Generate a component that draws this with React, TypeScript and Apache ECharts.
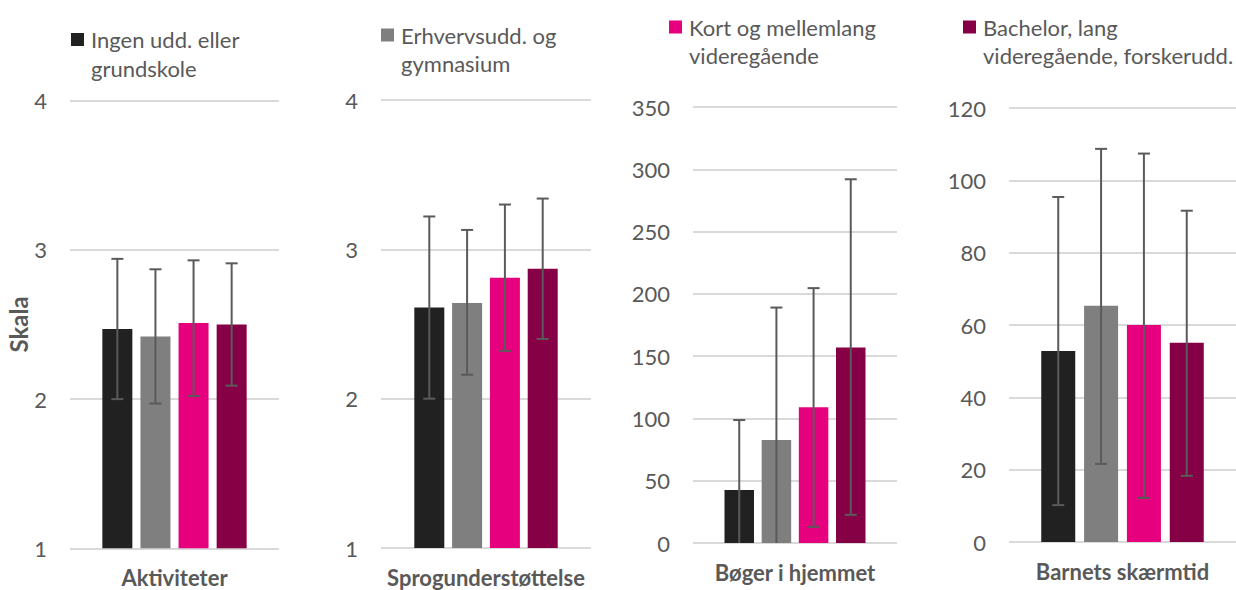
import React, { useEffect, useRef } from "react";
import * as echarts from "echarts";

// ---------- data ----------
const panels = ["Aktiviteter", "Sprogunderstøttelse", "Bøger i hjemmet", "Barnets skærmtid"];
const groups = [
  "Ingen udd. eller grundskole",
  "Erhvervsudd. og gymnasium",
  "Kort og mellemlang videregående",
  "Bachelor, lang videregående, forskerudd.",
];
const legendLabels = [
  "Ingen udd. eller\ngrundskole",
  "Erhvervsudd. og\ngymnasium",
  "Kort og mellemlang\nvideregående",
  "Bachelor, lang\nvideregående, forskerudd.",
];
const yAxisTitle = "Skala";

// mean per group, one value per panel
const ingenMean = [2.47, 2.61, 42.5, 52.8];
const erhvervMean = [2.42, 2.64, 82.7, 65.3];
const kortMean = [2.51, 2.81, 109, 60.0];
const bachelorMean = [2.5, 2.87, 157, 55.1];

// error bar upper ends
const ingenHigh = [2.94, 3.22, 98.7, 95.4];
const erhvervHigh = [2.87, 3.13, 189, 108.7];
const kortHigh = [2.93, 3.3, 204.6, 107.4];
const bachelorHigh = [2.91, 3.34, 292, 91.6];

// error bar lower ends (panel 3 black/gray fall below the axis)
const ingenLow = [2.0, 2.0, -14, 10.2];
const erhvervLow = [1.97, 2.16, -23, 21.6];
const kortLow = [2.02, 2.32, 13, 12.2];
const bachelorLow = [2.09, 2.4, 22.6, 18.3];

// axis scales per panel
const yMin = [1, 1, 0, 0];
const yMax = [4, 4, 350, 120];
const yInterval = [1, 1, 50, 20];

const means = [ingenMean, erhvervMean, kortMean, bachelorMean];
const highs = [ingenHigh, erhvervHigh, kortHigh, bachelorHigh];
const lows = [ingenLow, erhvervLow, kortLow, bachelorLow];

// ---------- styling / layout ----------
const colors = ["#212121", "#7f7f7f", "#e6007e", "#850045"];
const FONT = "Lato, 'Noto Sans', sans-serif";
const TXT = "#595959";
const ERR = "#5a5a5a";

const grids = [
  { left: 70, top: 100.7, width: 209, height: 447.6 },
  { left: 381, top: 100, width: 210, height: 448 },
  { left: 693, top: 107, width: 204, height: 436 },
  { left: 1009, top: 108, width: 228, height: 434 },
];
const barWidths = [30, 30, 29.5, 34];
const barGapFrac = [0.27, 0.26, 0.26, 0.26];

const legendPos = [
  { sx: 71, sy: 33, tx: 91 },
  { sx: 381, sy: 28.5, tx: 401 },
  { sx: 669, sy: 20.5, tx: 689 },
  { sx: 963, sy: 20.5, tx: 983 },
];
const SQ = 13;
const LH = 28.5;

export default function App() {
  const ref = useRef<HTMLDivElement>(null);

  useEffect(() => {
    document.body.style.margin = "0";
    if (!ref.current) return;
    const chart = echarts.init(ref.current, undefined, { renderer: "svg" });

    const xAxis = panels.map((p, i) => ({
      type: "category",
      gridIndex: i,
      data: [p],
      axisLine: { show: false },
      axisTick: { show: false },
      axisLabel: {
        show: true,
        margin: 18,
        fontFamily: FONT,
        fontSize: 22,
        fontWeight: "bold",
        color: TXT,
      },
    }));

    const yAxis = panels.map((_, i) => ({
      type: "value",
      gridIndex: i,
      min: yMin[i],
      max: yMax[i],
      interval: yInterval[i],
      axisLine: { show: false },
      axisTick: { show: false },
      axisLabel: { margin: 23, fontFamily: FONT, fontSize: 22, color: TXT },
      splitLine: { show: true, lineStyle: { color: "#d9d9d9", width: 2 } },
      ...(i === 0
        ? {
            name: yAxisTitle,
            nameLocation: "middle",
            nameGap: 38,
            nameRotate: 90,
            nameTextStyle: { fontFamily: FONT, fontSize: 24, fontWeight: "bold", color: TXT },
          }
        : {}),
    }));

    const series: any[] = [];
    panels.forEach((_, p) => {
      groups.forEach((g, k) => {
        series.push({
          type: "bar",
          name: g,
          xAxisIndex: p,
          yAxisIndex: p,
          data: [means[k][p]],
          barWidth: barWidths[p],
          barGap: `${barGapFrac[p] * 100}%`,
          clip: true,
          itemStyle: { color: colors[k] },
          z: 2,
        });
      });
      groups.forEach((g, k) => {
        const offset = (k - 1.5) * barWidths[p] * (1 + barGapFrac[p]);
        series.push({
          type: "custom",
          name: g + " err",
          xAxisIndex: p,
          yAxisIndex: p,
          clip: true,
          z: 3,
          encode: { x: 0, y: [1, 2] },
          data: [[0, lows[k][p], highs[k][p]]],
          renderItem: (params: any, api: any) => {
            const lo = api.coord([api.value(0), api.value(1)]);
            const hi = api.coord([api.value(0), api.value(2)]);
            const x = hi[0] + offset;
            const cap = 6;
            const st = { stroke: ERR, lineWidth: 2 };
            return {
              type: "group",
              children: [
                { type: "line", shape: { x1: x, y1: hi[1], x2: x, y2: lo[1] }, style: st },
                { type: "line", shape: { x1: x - cap, y1: hi[1], x2: x + cap, y2: hi[1] }, style: st },
                { type: "line", shape: { x1: x - cap, y1: lo[1], x2: x + cap, y2: lo[1] }, style: st },
              ],
            };
          },
        });
      });
    });

    const graphic: any[] = [];
    legendLabels.forEach((lbl, k) => {
      const lp = legendPos[k];
      graphic.push({
        type: "rect",
        shape: { x: lp.sx, y: lp.sy, width: SQ, height: SQ },
        style: { fill: colors[k] },
      });
      graphic.push({
        type: "text",
        x: lp.tx,
        y: lp.sy + SQ / 2 - LH / 2,
        style: {
          text: lbl,
          font: `22px ${FONT}`,
          fill: TXT,
          lineHeight: LH,
          verticalAlign: "top",
          align: "left",
        },
      });
    });

    chart.setOption({
      animation: false,
      backgroundColor: "#ffffff",
      textStyle: { fontFamily: FONT },
      grid: grids.map((g) => ({ ...g, containLabel: false })),
      xAxis,
      yAxis,
      series,
      graphic,
    });

    return () => chart.dispose();
  }, []);

  return <div ref={ref} style={{ width: 1236, height: 590 }} />;
}
